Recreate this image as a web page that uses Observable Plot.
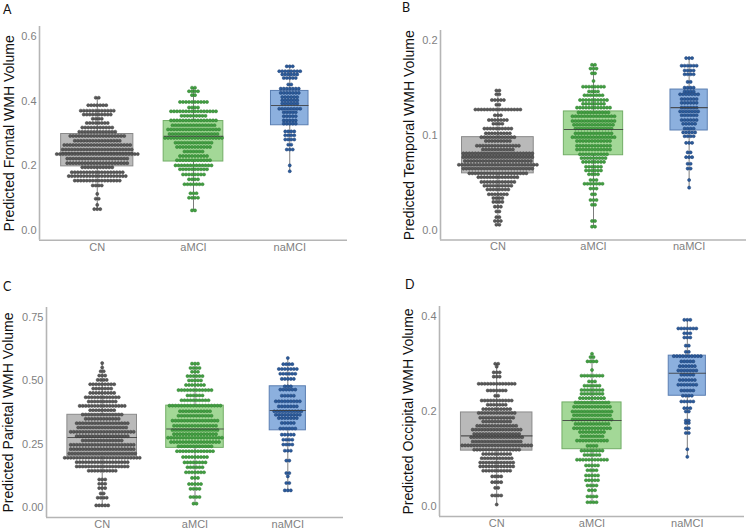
<!DOCTYPE html>
<html><head><meta charset="utf-8">
<script src="https://cdn.jsdelivr.net/npm/d3@7"></script>
<script src="https://cdn.jsdelivr.net/npm/@observablehq/plot@0.6"></script>
<style>
body{margin:0;background:#fff;}
#wrap{position:relative;width:750px;height:532px;font-family:"Liberation Sans",Arial,sans-serif;overflow:hidden;}
.panel{position:absolute;width:375px;height:266px;}
.panel svg{display:block;}
.letter{position:absolute;font-family:Lato,"Open Sans",sans-serif;font-size:12.5px;line-height:1;color:#111;z-index:2;}
</style></head><body><div id="wrap"></div>
<script>
const groups = ["CN", "aMCI", "naMCI"];
const panelLetters = ["A", "B", "C", "D"];
const panelTitles = ["Predicted Frontal WMH Volume", "Predicted Temporal WMH Volume", "Predicted Parietal WMH Volume", "Predicted Occipital WMH Volume"];

// ---- Panel A: Frontal (row value, dots in row) ----
const frontalCN_v = [0.410,0.387,0.370,0.358,0.345,0.332,0.318,0.305,0.292,0.277,0.264,0.250,0.236,0.222,0.208,0.195,0.180,0.168,0.154,0.139,0.113,0.098,0.079,0.066];
const frontalCN_n = [2,7,12,10,4,8,11,13,19,16,23,24,28,21,21,11,18,20,16,4,1,2,1,3];
const frontalAM_v = [0.441,0.430,0.418,0.397,0.380,0.368,0.354,0.340,0.325,0.312,0.298,0.286,0.271,0.258,0.244,0.230,0.217,0.201,0.189,0.173,0.158,0.143,0.115,0.101,0.062];
const frontalAM_n = [2,4,2,10,4,16,9,16,15,18,17,20,13,12,7,10,12,13,10,8,4,7,3,4,2];
const frontalNA_v = [0.507,0.492,0.482,0.471,0.451,0.438,0.425,0.412,0.402,0.392,0.376,0.365,0.353,0.340,0.330,0.306,0.294,0.281,0.265,0.250,0.201,0.183];
const frontalNA_n = [3,8,6,5,2,7,7,6,6,6,8,5,5,5,5,4,4,4,2,3,1,1];
const frontalQ1 = [0.198,0.213,0.325];
const frontalMed = [0.240,0.291,0.386];
const frontalQ3 = [0.298,0.338,0.431];

// ---- Panel B: Temporal ----
const temporalCN_v = [0.147,0.143,0.137,0.132,0.127,0.121,0.116,0.112,0.107,0.102,0.098,0.094,0.089,0.085,0.081,0.077,0.073,0.069,0.065,0.060,0.056,0.051,0.047,0.043,0.038,0.034,0.030,0.025,0.020,0.014,0.010,0.006];
const temporalCN_n = [2,2,5,2,16,3,7,4,10,9,12,9,15,11,24,24,23,27,24,20,14,12,10,8,7,4,4,3,2,2,3,2];
const temporalAM_v = [0.174,0.170,0.165,0.157,0.151,0.146,0.142,0.137,0.133,0.129,0.124,0.120,0.115,0.111,0.107,0.102,0.098,0.094,0.089,0.085,0.080,0.076,0.072,0.067,0.063,0.059,0.053,0.049,0.044,0.038,0.032,0.027,0.010,0.004];
const temporalAM_n = [2,3,2,1,8,4,7,10,8,12,11,15,15,14,13,13,15,12,12,12,10,9,8,6,6,4,3,7,3,2,3,2,2,2];
const temporalNA_v = [0.181,0.173,0.168,0.164,0.156,0.150,0.146,0.143,0.138,0.134,0.129,0.125,0.121,0.116,0.112,0.107,0.103,0.099,0.092,0.082,0.077,0.070,0.065,0.053,0.045];
const temporalNA_n = [3,6,4,4,2,4,4,7,6,6,6,7,6,6,5,4,5,4,3,2,3,2,2,1,1];
const temporalQ1 = [0.060,0.079,0.105];
const temporalMed = [0.079,0.106,0.129];
const temporalQ3 = [0.098,0.125,0.148];

// ---- Panel C: Parietal ----
const parietalCN_v = [0.569,0.552,0.537,0.520,0.503,0.486,0.469,0.452,0.435,0.418,0.401,0.384,0.367,0.350,0.333,0.316,0.299,0.282,0.265,0.248,0.231,0.214,0.197,0.180,0.163,0.146,0.112,0.095,0.078,0.057,0.040,0.010];
const parietalCN_n = [1,1,2,3,4,9,7,9,12,10,16,9,14,12,18,17,22,18,14,22,22,23,26,18,18,10,3,3,3,2,4,5];
const parietalAM_v = [0.567,0.550,0.535,0.518,0.501,0.483,0.463,0.442,0.423,0.402,0.380,0.362,0.343,0.323,0.306,0.290,0.276,0.259,0.242,0.223,0.200,0.179,0.160,0.140,0.118,0.094,0.075,0.043,0.017];
const parietalAM_n = [3,4,3,6,5,7,12,6,10,18,11,12,16,15,16,15,19,17,12,13,9,8,6,7,3,5,4,4,2];
const parietalNA_v = [0.589,0.565,0.546,0.527,0.507,0.478,0.465,0.441,0.419,0.399,0.380,0.366,0.353,0.334,0.312,0.288,0.268,0.249,0.225,0.186,0.137,0.124,0.098,0.069];
const parietalNA_n = [1,4,7,6,5,3,6,5,9,7,10,9,7,5,6,5,4,4,3,2,2,1,2,3];
const parietalQ1 = [0.203,0.236,0.305];
const parietalMed = [0.277,0.310,0.383];
const parietalQ3 = [0.366,0.402,0.478];

// ---- Panel D: Occipital ----
const occipitalCN_v = [0.300,0.294,0.282,0.273,0.258,0.244,0.233,0.223,0.214,0.205,0.197,0.187,0.179,0.170,0.162,0.153,0.146,0.137,0.129,0.120,0.111,0.102,0.093,0.085,0.076,0.064,0.052,0.040,0.024,0.005];
const occipitalCN_n = [2,1,3,3,13,7,2,11,7,10,13,12,10,14,17,16,18,17,24,16,10,11,12,12,10,4,4,2,4,1];
const occipitalAM_v = [0.321,0.314,0.305,0.287,0.275,0.263,0.254,0.245,0.237,0.228,0.219,0.210,0.200,0.192,0.183,0.174,0.165,0.157,0.148,0.139,0.128,0.118,0.109,0.099,0.087,0.077,0.066,0.056,0.045,0.035,0.022,0.010];
const occipitalAM_n = [1,2,4,1,8,3,6,8,8,9,12,13,14,13,14,12,13,9,8,11,4,8,6,11,5,4,5,5,4,3,4,4];
const occipitalNA_v = [0.392,0.374,0.364,0.355,0.338,0.325,0.316,0.305,0.295,0.286,0.277,0.266,0.256,0.244,0.233,0.221,0.207,0.200,0.181,0.176,0.165,0.155,0.121,0.105];
const occipitalNA_n = [3,7,3,3,2,2,10,5,6,7,5,6,7,5,4,5,3,2,2,2,2,2,1,1];
const occipitalQ1 = [0.118,0.121,0.233];
const occipitalMed = [0.149,0.181,0.280];
const occipitalQ3 = [0.198,0.219,0.317];

// y-axis ticks and limits per panel
const yTicksA = [0, 0.2, 0.4, 0.6];
const yTicksB = [0, 0.1, 0.2];
const yTicksC = [0, 0.25, 0.5, 0.75];
const yTicksD = [0, 0.2, 0.4];
const yLimits = [[0, 0.6], [0, 0.2], [0, 0.75], [0, 0.4]];
const boxWidth = [0.75, 0.62, 0.39];

// styles
const dotFill = ["#5a5a5a", "#43a043", "#2c5c9c"];
const dotStroke = ["#3a3a3a", "#2c7d2c", "#1c3f72"];
const boxFill = ["#b9b9b9", "#a3d897", "#8cb0de"];
const boxStroke = ["#8a8a8a", "#72ad66", "#5b7fb2"];

const panels = [
  {rows: [[frontalCN_v, frontalCN_n], [frontalAM_v, frontalAM_n], [frontalNA_v, frontalNA_n]], q1: frontalQ1, med: frontalMed, q3: frontalQ3, ticks: yTicksA, fmt: ".1f",
   left: 0, top: 0, m: {t: 26, b: 26.3, l: 39, r: 28}, titleX: 9, letter: [3, 4]},
  {rows: [[temporalCN_v, temporalCN_n], [temporalAM_v, temporalAM_n], [temporalNA_v, temporalNA_n]], q1: temporalQ1, med: temporalMed, q3: temporalQ3, ticks: yTicksB, fmt: ".1f",
   left: 375, top: 0, m: {t: 30, b: 26.5, l: 65, r: 4}, titleX: 34, letter: [27, 2]},
  {rows: [[parietalCN_v, parietalCN_n], [parietalAM_v, parietalAM_n], [parietalNA_v, parietalNA_n]], q1: parietalQ1, med: parietalMed, q3: parietalQ3, ticks: yTicksC, fmt: ".2f",
   left: 0, top: 266, m: {t: 41, b: 15, l: 46, r: 32}, titleX: 8, letter: [3, 15]},
  {rows: [[occipitalCN_v, occipitalCN_n], [occipitalAM_v, occipitalAM_n], [occipitalNA_v, occipitalNA_n]], q1: occipitalQ1, med: occipitalMed, q3: occipitalQ3, ticks: yTicksD, fmt: ".1f",
   left: 375, top: 266, m: {t: 40, b: 16, l: 64, r: 6}, titleX: 33, letter: [30, 13]}
];

const W = 375, H = 266, dotStep = 3;
const wrap = document.getElementById("wrap");

panels.forEach((p, pi) => {
  const pxPerUnit = (W - p.m.l - p.m.r) / 3.2;
  const [lo, hi] = yLimits[pi];
  const pad = (hi - lo) * 0.05;
  const yDomain = [lo - pad, hi + pad];
  const dots = [];
  const boxes = [];
  p.rows.forEach(([vals, counts], gi) => {
    vals.forEach((v, j) => {
      const n = counts[j];
      for (let k = 0; k < n; k++) {
        dots.push({g: gi, v, x: gi + 1 + (k - (n - 1) / 2) * dotStep / pxPerUnit});
      }
    });
    boxes.push({
      g: gi, x: gi + 1,
      x1: gi + 1 - boxWidth[gi] / 2, x2: gi + 1 + boxWidth[gi] / 2,
      q1: p.q1[gi], med: p.med[gi], q3: p.q3[gi],
      lo: d3.min(vals), hi: d3.max(vals)
    });
  });

  const chart = Plot.plot({
    width: W, height: H,
    marginLeft: p.m.l, marginRight: p.m.r, marginTop: p.m.t, marginBottom: p.m.b,
    style: {fontFamily: '"Liberation Sans", Arial, sans-serif', background: "transparent"},
    x: {domain: [0.4, 3.6], axis: null},
    y: {domain: yDomain, axis: null},
    marks: [
      Plot.ruleX(boxes, {x: "x", y1: "lo", y2: "hi", stroke: "#7d7d7d", strokeWidth: 1}),
      Plot.rect(boxes, {x1: "x1", x2: "x2", y1: "q1", y2: "q3", fill: d => boxFill[d.g], stroke: d => boxStroke[d.g], strokeWidth: 1}),
      Plot.dot(dots, {x: "x", y: "v", r: 1.55, fill: d => dotFill[d.g], stroke: d => dotStroke[d.g], strokeWidth: 0.5}),
      Plot.link(boxes, {x1: "x1", x2: "x2", y1: "med", y2: "med", stroke: "#3d3d3d", strokeOpacity: 0.85, strokeWidth: 1.1}),
      Plot.ruleY([yDomain[0]], {stroke: "#b5b5b5", strokeWidth: 1.6}),
      Plot.ruleX([0.4], {stroke: "#b5b5b5", strokeWidth: 1.6}),
      Plot.axisY(p.ticks, {tickSize: 0, tickPadding: 3, tickFormat: d3.format(p.fmt), fontSize: 11, color: "#7f7f7f", label: null}),
      Plot.axisX([1, 2, 3], {tickSize: 0, tickPadding: 2.5, tickFormat: i => groups[i - 1], fontSize: 11, color: "#7f7f7f", label: null}),
      Plot.text([panelTitles[pi]], {frameAnchor: "left", textAnchor: "middle", lineAnchor: "middle", rotate: -90, dx: p.titleX - p.m.l, fontSize: 14, fill: "#111"})
    ],
    color: {type: "identity"}
  });

  const div = document.createElement("div");
  div.className = "panel";
  div.style.left = p.left + "px";
  div.style.top = p.top + "px";
  const lab = document.createElement("div");
  lab.className = "letter";
  lab.textContent = panelLetters[pi];
  lab.style.left = p.letter[0] + "px";
  lab.style.top = p.letter[1] + "px";
  div.appendChild(chart);
  div.appendChild(lab);
  wrap.appendChild(div);
});
</script>
</body></html>
